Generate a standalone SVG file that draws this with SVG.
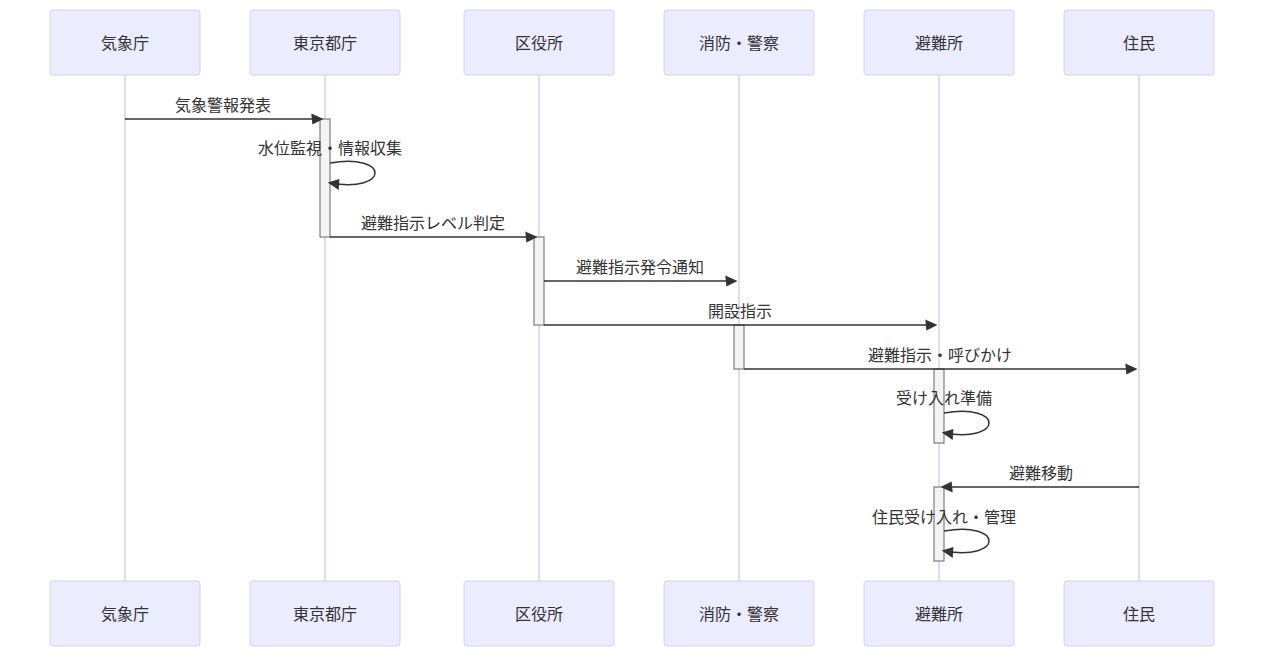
<svg xmlns="http://www.w3.org/2000/svg" width="1264" height="657" viewBox="0 0 1264 657">
<style>
.actor{fill:#ECECFF;stroke:#D8D0F3;stroke-width:1}
.atext{font-family:"Noto Sans CJK JP","Liberation Sans",sans-serif;font-size:16px;fill:#333;text-anchor:middle;dominant-baseline:central}
.life{stroke:#D8D0F3;stroke-width:1.5}
.act{fill:#F4F4F4;stroke:#666;stroke-width:1}
.msg{stroke:#333;stroke-width:1.5;fill:none}
.mtext{font-family:"Noto Sans CJK JP","Liberation Sans",sans-serif;font-size:16px;fill:#333;text-anchor:middle;dominant-baseline:central}
</style>
<defs>
<marker id="ah" viewBox="-1 0 11 10" refX="7.9" refY="5" markerUnits="userSpaceOnUse" markerWidth="12" markerHeight="12" orient="auto">
<path d="M -1 0 L 10 5 L 0 10 z" fill="#333"/>
</marker>
</defs>
<g id="lifelines">
<line class="life" x1="125" y1="75" x2="125" y2="581"/>
<line class="life" x1="325" y1="75" x2="325" y2="581"/>
<line class="life" x1="539" y1="75" x2="539" y2="581"/>
<line class="life" x1="739" y1="75" x2="739" y2="581"/>
<line class="life" x1="939" y1="75" x2="939" y2="581"/>
<line class="life" x1="1139" y1="75" x2="1139" y2="581"/>
</g>
<g id="actor-kishocho"><rect class="actor" x="50" y="10" width="150" height="65" rx="3"/><text class="atext" x="125" y="42">気象庁</text><rect class="actor" x="50" y="581" width="150" height="65" rx="3"/><text class="atext" x="125" y="613">気象庁</text></g>
<g id="actor-tokyo"><rect class="actor" x="250" y="10" width="150" height="65" rx="3"/><text class="atext" x="325" y="42">東京都庁</text><rect class="actor" x="250" y="581" width="150" height="65" rx="3"/><text class="atext" x="325" y="613">東京都庁</text></g>
<g id="actor-kuyakusho"><rect class="actor" x="464" y="10" width="150" height="65" rx="3"/><text class="atext" x="539" y="42">区役所</text><rect class="actor" x="464" y="581" width="150" height="65" rx="3"/><text class="atext" x="539" y="613">区役所</text></g>
<g id="actor-shobo"><rect class="actor" x="664" y="10" width="150" height="65" rx="3"/><text class="atext" x="739" y="42">消防・警察</text><rect class="actor" x="664" y="581" width="150" height="65" rx="3"/><text class="atext" x="739" y="613">消防・警察</text></g>
<g id="actor-hinanjo"><rect class="actor" x="864" y="10" width="150" height="65" rx="3"/><text class="atext" x="939" y="42">避難所</text><rect class="actor" x="864" y="581" width="150" height="65" rx="3"/><text class="atext" x="939" y="613">避難所</text></g>
<g id="actor-jumin"><rect class="actor" x="1064" y="10" width="150" height="65" rx="3"/><text class="atext" x="1139" y="42">住民</text><rect class="actor" x="1064" y="581" width="150" height="65" rx="3"/><text class="atext" x="1139" y="613">住民</text></g>
<g id="activations">
<rect class="act" x="320" y="119" width="10" height="118"/>
<rect class="act" x="534" y="237" width="10" height="88"/>
<rect class="act" x="734" y="325" width="10" height="44"/>
<rect class="act" x="934" y="369" width="10" height="74"/>
<rect class="act" x="934" y="487" width="10" height="74"/>
</g>
<g id="connectors">
<line class="msg" x1="125" y1="119" x2="321" y2="119" marker-end="url(#ah)"/>
<path class="msg" d="M 330,163 C 390,153 390,193 330,183" marker-end="url(#ah)"/>
<line class="msg" x1="330" y1="237" x2="535" y2="237" marker-end="url(#ah)"/>
<line class="msg" x1="544" y1="281" x2="735" y2="281" marker-end="url(#ah)"/>
<line class="msg" x1="544" y1="325" x2="935" y2="325" marker-end="url(#ah)"/>
<line class="msg" x1="744" y1="369" x2="1135" y2="369" marker-end="url(#ah)"/>
<path class="msg" d="M 944,413 C 1004,403 1004,443 944,433" marker-end="url(#ah)"/>
<line class="msg" x1="1139" y1="487" x2="943" y2="487" marker-end="url(#ah)"/>
<path class="msg" d="M 944,531 C 1004,521 1004,561 944,551" marker-end="url(#ah)"/>
</g>
<g id="labels">
<text class="mtext" x="223" y="104">気象警報発表</text>
<text class="mtext" x="330" y="147">水位監視・情報収集</text>
<text class="mtext" x="433" y="222">避難指示レベル判定</text>
<text class="mtext" x="640" y="266">避難指示発令通知</text>
<text class="mtext" x="740" y="310">開設指示</text>
<text class="mtext" x="940" y="354">避難指示・呼びかけ</text>
<text class="mtext" x="944" y="397">受け入れ準備</text>
<text class="mtext" x="1041" y="472">避難移動</text>
<text class="mtext" x="944" y="516">住民受け入れ・管理</text>
</g>
</svg>
